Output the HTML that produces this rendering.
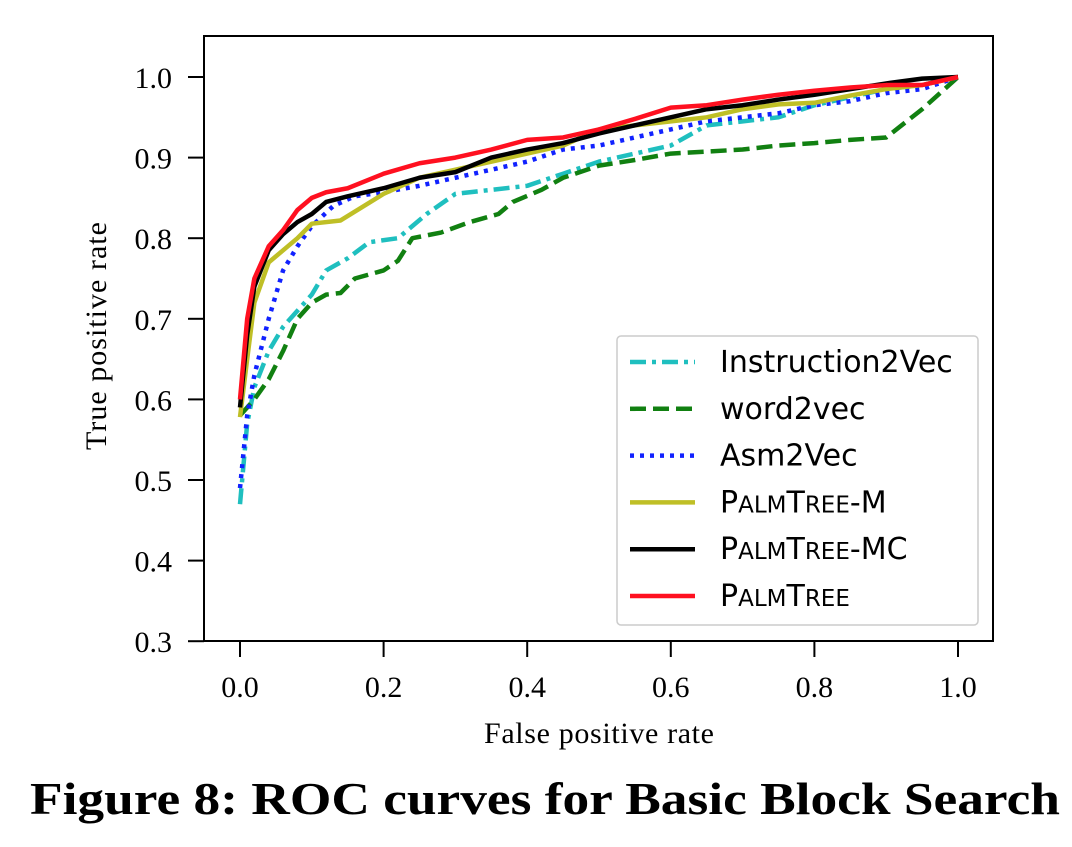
<!DOCTYPE html>
<html><head><meta charset="utf-8"><style>
body{margin:0;background:#fff;width:1072px;height:842px;overflow:hidden}
svg text{font-family:"Liberation Serif",serif}
.leg{font-family:"DejaVu Sans",sans-serif;font-size:30px}
</style></head><body>
<svg width="1072" height="842" id="chart">
<rect x="204" y="36" width="789" height="605" fill="none" stroke="#000" stroke-width="2"/>
<g id="ticks"></g><g id="series"></g>
<text x="599" y="743" font-size="30" text-anchor="middle" textLength="230">False positive rate</text>
<text transform="translate(106,336) rotate(-90)" font-size="30" text-anchor="middle" textLength="228">True positive rate</text>
<g>
<rect x="617" y="336" width="361" height="289" rx="4" fill="#fff" stroke="#ccc" stroke-width="1.5"/>
<g id="legend"></g>
</g>
<text x="30" y="814" font-size="46" font-weight="bold" textLength="1030" lengthAdjust="spacingAndGlyphs">Figure 8: ROC curves for Basic Block Search</text>
</svg>
<script>
const xTicks=[0,0.2,0.4,0.6,0.8,1.0];
const yTicks=[0.3,0.4,0.5,0.6,0.7,0.8,0.9,1.0];
const names=["Instruction2Vec","word2vec","Asm2Vec","PalmTree-M","PalmTree-MC","PalmTree"];
const cyanX=[0,0.01,0.02,0.04,0.06,0.08,0.1,0.12,0.15,0.18,0.22,0.26,0.3,0.35,0.4,0.45,0.5,0.55,0.6,0.65,0.7,0.75,0.8,0.85,0.9,0.95,1];
const cyanY=[0.47,0.57,0.615,0.66,0.69,0.71,0.73,0.76,0.775,0.795,0.8,0.83,0.855,0.86,0.865,0.88,0.895,0.905,0.915,0.94,0.945,0.95,0.965,0.975,0.985,0.99,1];
const greenX=[0,0.02,0.04,0.06,0.08,0.1,0.12,0.14,0.16,0.2,0.22,0.24,0.28,0.32,0.36,0.38,0.42,0.45,0.5,0.55,0.6,0.7,0.75,0.8,0.85,0.9,0.95,1];
const greenY=[0.58,0.6,0.625,0.66,0.7,0.72,0.73,0.732,0.75,0.76,0.772,0.8,0.807,0.82,0.83,0.845,0.86,0.875,0.89,0.897,0.905,0.91,0.915,0.918,0.922,0.925,0.96,1];
const blueX=[0,0.01,0.02,0.04,0.06,0.08,0.1,0.13,0.16,0.2,0.25,0.3,0.35,0.4,0.45,0.5,0.55,0.6,0.65,0.7,0.75,0.8,0.85,0.9,0.95,1];
const blueY=[0.49,0.58,0.63,0.7,0.76,0.79,0.815,0.84,0.852,0.857,0.865,0.875,0.885,0.895,0.91,0.915,0.925,0.935,0.945,0.95,0.955,0.965,0.97,0.98,0.985,1];
const oliveX=[0,0.01,0.02,0.04,0.06,0.08,0.1,0.14,0.2,0.25,0.3,0.35,0.4,0.45,0.5,0.55,0.6,0.65,0.7,0.75,0.8,0.85,0.9,0.95,1];
const oliveY=[0.578,0.65,0.72,0.77,0.785,0.8,0.818,0.822,0.855,0.875,0.885,0.895,0.905,0.915,0.935,0.94,0.945,0.95,0.96,0.966,0.968,0.977,0.985,0.99,1];
const blackX=[0,0.01,0.02,0.04,0.06,0.08,0.1,0.12,0.15,0.2,0.25,0.3,0.35,0.4,0.45,0.5,0.55,0.6,0.65,0.7,0.75,0.8,0.85,0.9,0.95,1];
const blackY=[0.59,0.68,0.74,0.785,0.805,0.82,0.83,0.845,0.852,0.862,0.875,0.882,0.9,0.91,0.918,0.93,0.94,0.95,0.96,0.965,0.972,0.978,0.985,0.992,0.998,1];
const redX=[0,0.01,0.02,0.04,0.06,0.08,0.1,0.12,0.15,0.2,0.25,0.3,0.35,0.4,0.45,0.5,0.55,0.6,0.65,0.7,0.75,0.8,0.85,0.9,0.95,1];
const redY=[0.6,0.7,0.75,0.79,0.81,0.835,0.85,0.857,0.862,0.88,0.893,0.9,0.91,0.922,0.925,0.935,0.948,0.962,0.965,0.972,0.978,0.983,0.987,0.99,0.99,1];
const X=v=>240+718*v, Y=v=>77+(1-v)*806;
const NS="http://www.w3.org/2000/svg";
const tg=document.getElementById('ticks');
function mk(tag,at,parent){const e=document.createElementNS(NS,tag);for(const k in at)e.setAttribute(k,at[k]);parent.appendChild(e);return e;}
xTicks.forEach(t=>{
 const l=mk('line',{x1:X(t),x2:X(t),y1:641,y2:657,stroke:'#000','stroke-width':2},tg);
 
 
 const s=mk('text',{x:X(t),y:697,'font-size':30,'text-anchor':'middle'},tg);s.textContent=t.toFixed(1);
 
 
});
yTicks.forEach(t=>{
 const l=mk('line',{x1:188,x2:204,y1:Y(t),y2:Y(t),stroke:'#000','stroke-width':2},tg);
 
 
 const s=mk('text',{x:172,y:Y(t)+11,'font-size':30,'text-anchor':'end'},tg);s.textContent=t.toFixed(1);
 
 
});
const styles=[
 {c:'#1fbfbf',d:'16,6,4,6',xs:cyanX,ys:cyanY},
 {c:'#118011',d:'16,7',xs:greenX,ys:greenY},
 {c:'#1122ff',d:'4,6',xs:blueX,ys:blueY},
 {c:'#bfbf26',d:'',xs:oliveX,ys:oliveY},
 {c:'#000000',d:'',xs:blackX,ys:blackY},
 {c:'#ff1020',d:'',xs:redX,ys:redY}];
const sg=document.getElementById('series'), lg=document.getElementById('legend');
styles.forEach((s,i)=>{
 const p=mk('path',{d:s.xs.map((x,j)=>(j?'L':'M')+X(x)+','+Y(s.ys[j])).join(''),fill:'none',stroke:s.c,'stroke-width':4.5,'stroke-dasharray':s.d,'stroke-linejoin':'round'},sg);
 
 
 const y=362+i*46.8;
 const l=mk('line',{x1:630,x2:695,y1:y,y2:y,stroke:s.c,'stroke-width':4.5,'stroke-dasharray':s.d},lg);
 
 
 const t=mk('text',{x:720,y:y+10,class:'leg'},lg);
 
 
 const n=names[i];
 if(n.startsWith('PalmTree')){
  t.innerHTML='P<tspan font-size="23">ALM</tspan>T<tspan font-size="23">REE</tspan>'+n.slice(8);
 } else t.textContent=n;
});
</script>
</body></html>
